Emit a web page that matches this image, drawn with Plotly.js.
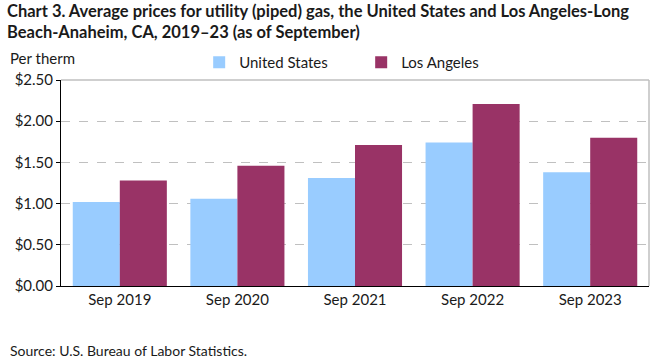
<!DOCTYPE html>
<html>
<head>
<meta charset="utf-8">
<script src="https://cdn.plot.ly/plotly-3.0.1.min.js"></script>
<style>html,body{margin:0;padding:0;background:#fff}#chart{width:661px;height:361px}</style>
</head>
<body>
<div id="chart"></div>
<script>
const categories = ["Sep 2019", "Sep 2020", "Sep 2021", "Sep 2022", "Sep 2023"];
const unitedStates = [1.02, 1.06, 1.31, 1.74, 1.38];
const losAngeles = [1.28, 1.46, 1.71, 2.21, 1.80];
const yTickValues = [0, 0.5, 1.0, 1.5, 2.0, 2.5];
const yTickLabels = ["$0.00", "$0.50", "$1.00", "$1.50", "$2.00", "$2.50"];

const FONT = "Lato, 'Open Sans', sans-serif";
const TXT = "#1a1a1a";

const traces = [
  {type: "bar", name: "United States", x: categories, y: unitedStates,
   marker: {color: "#99CCFF"}, hoverinfo: "none"},
  {type: "bar", name: "Los Angeles", x: categories, y: losAngeles,
   marker: {color: "#993366"}, hoverinfo: "none"}
];

const layout = {
  width: 661, height: 361,
  margin: {l: 61, r: 12, t: 80, b: 75},
  paper_bgcolor: "#fff", plot_bgcolor: "#fff",
  font: {family: FONT, size: 15, color: TXT},
  barmode: "group", bargap: 0.2, bargroupgap: 0,
  xaxis: {
    type: "category",
    showline: true, linecolor: "#000", linewidth: 1,
    ticks: "", showgrid: false,
    tickfont: {family: FONT, size: 15, color: TXT}
  },
  yaxis: {
    range: [0, 2.5], tickmode: "array", tickvals: yTickValues, ticktext: yTickLabels,
    showline: true, linecolor: "#000", linewidth: 1,
    ticks: "outside", ticklen: 4, tickcolor: "#000",
    showgrid: true, gridcolor: "#c0c0c0", griddash: "dash", gridwidth: 1,
    zeroline: false,
    tickfont: {family: FONT, size: 15, color: TXT}
  },
  showlegend: true,
  legend: {
    orientation: "h", x: 0.235, xanchor: "left", y: 1.085, yanchor: "middle",
    font: {family: FONT, size: 15, color: TXT},
    entrywidth: 117, entrywidthmode: "pixels",
    bgcolor: "rgba(0,0,0,0)", borderwidth: 0,
    itemclick: false, itemdoubleclick: false
  },
  shapes: [
    {type: "line", xref: "paper", yref: "paper", x0: 0, x1: 1, y0: 1, y1: 1,
     line: {color: "#bfbfbf", width: 1.5}},
    {type: "line", xref: "paper", yref: "paper", x0: 1, x1: 1, y0: 0, y1: 1,
     line: {color: "#bfbfbf", width: 1.5}}
  ],
  annotations: [
    {text: "<b>Chart 3. Average prices for utility (piped) gas, the United States and Los Angeles-Long<br>Beach-Anaheim, CA, 2019–23 (as of September)</b>",
     xref: "paper", yref: "paper", x: (5 - 61) / 588, xanchor: "left",
     y: (285.5 + 1) / 205.5, yanchor: "top", align: "left", showarrow: false,
     font: {family: FONT, size: 16.5, color: TXT}},
    {text: "Per therm", xref: "paper", yref: "paper", x: (8 - 61) / 588, xanchor: "left",
     y: (285.5 - 58) / 205.5, yanchor: "middle", showarrow: false,
     font: {family: FONT, size: 15, color: TXT}},
    {text: "Source: U.S. Bureau of Labor Statistics.", xref: "paper", yref: "paper",
     x: (8 - 61) / 588, xanchor: "left", y: (285.5 - 350) / 205.5, yanchor: "middle", showarrow: false,
     font: {family: FONT, size: 14, color: TXT}}
  ]
};

Plotly.newPlot("chart", traces, layout, {staticPlot: true, displayModeBar: false});
</script>
</body>
</html>
